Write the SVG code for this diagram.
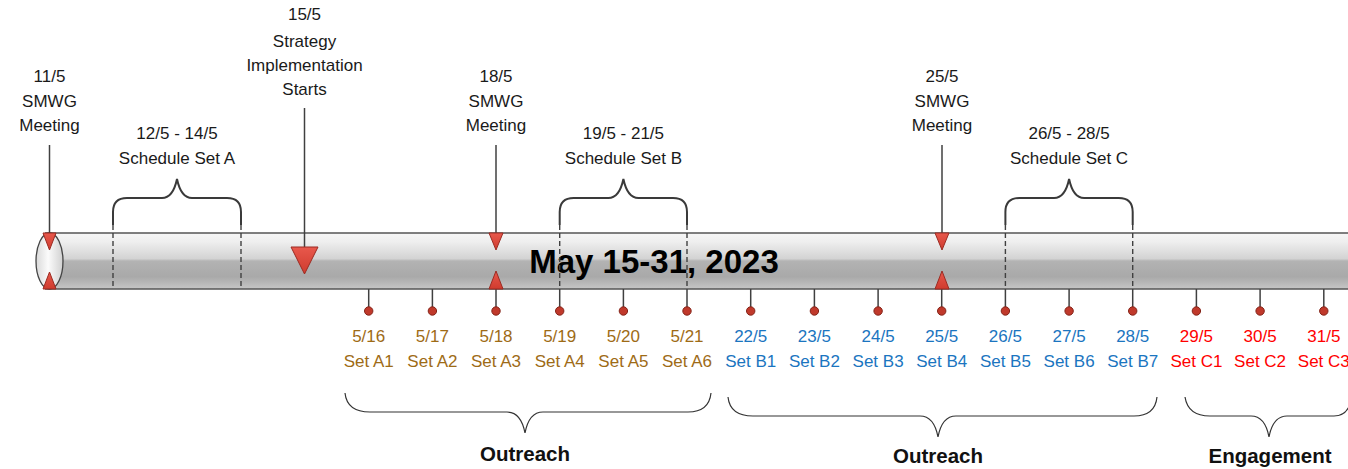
<svg xmlns="http://www.w3.org/2000/svg" width="1348" height="469" viewBox="0 0 1348 469">
<defs>
<linearGradient id="tubeG" x1="0" y1="0" x2="0" y2="1">
<stop offset="0" stop-color="#f6f6f6"/>
<stop offset="0.15" stop-color="#efefef"/>
<stop offset="0.46" stop-color="#d3d3d3"/>
<stop offset="0.5" stop-color="#b3b3b3"/>
<stop offset="0.78" stop-color="#a9a9a9"/>
<stop offset="1" stop-color="#c6c6c6"/>
</linearGradient>
<linearGradient id="capG" x1="0" y1="0" x2="1" y2="0">
<stop offset="0" stop-color="#d9d9d9"/>
<stop offset="0.45" stop-color="#fbfbfb"/>
<stop offset="1" stop-color="#d0d0d0"/>
</linearGradient>
<linearGradient id="triG" x1="0" y1="0" x2="0" y2="1">
<stop offset="0" stop-color="#e8584c"/>
<stop offset="1" stop-color="#cf3b2e"/>
</linearGradient>
<style>
.t{font-family:"Liberation Sans",Arial,sans-serif;font-size:17px;fill:#1a1a1a;text-anchor:middle}
.d{font-family:"Liberation Sans",Arial,sans-serif;font-size:17px;text-anchor:middle}
.a{fill:#9e6b16}.b{fill:#1b75c0}.c{fill:#ff0000}
.big{font-family:"Liberation Sans",Arial,sans-serif;font-size:33px;font-weight:bold;fill:#000;text-anchor:middle}
.lab{font-family:"Liberation Sans",Arial,sans-serif;font-size:20.5px;font-weight:bold;fill:#111;text-anchor:middle}
.ln{stroke:#404040;stroke-width:1.5;fill:none}
.dash{stroke:#404040;stroke-width:1.4;stroke-dasharray:5,3;fill:none}
.brace{stroke:#3a3a3a;stroke-width:2;fill:none}
.bbrace{stroke:#333;stroke-width:1.2;fill:none}
.tri{fill:url(#triG);stroke:#9b2b22;stroke-width:1}
.dot{fill:#c0392b;stroke:#842419;stroke-width:1}
</style>
</defs>

<g id="tube">
<rect x="49" y="233" width="1305" height="56" fill="url(#tubeG)"/>
<line x1="45" y1="233" x2="1348" y2="233" stroke="#555" stroke-width="1.5"/>
<line x1="45" y1="289" x2="1348" y2="289" stroke="#555" stroke-width="1.5"/>
<ellipse cx="49.5" cy="261" rx="13.5" ry="28" fill="url(#capG)" stroke="#444" stroke-width="1.3"/>
<text class="big" x="654" y="273">May 15-31, 2023</text>
</g>

<g id="connectors">
<line class="ln" x1="49.5" y1="145" x2="49.5" y2="233"/>
<line class="ln" x1="304.5" y1="108" x2="304.5" y2="247"/>
<line class="ln" x1="496" y1="145" x2="496" y2="233"/>
<line class="ln" x1="942" y1="145" x2="942" y2="233"/>
<line class="dash" x1="113" y1="225" x2="113" y2="289"/>
<line class="dash" x1="241" y1="225" x2="241" y2="289"/>
<line class="dash" x1="559.7" y1="225" x2="559.7" y2="289"/>
<line class="dash" x1="687" y1="225" x2="687" y2="289"/>
<line class="dash" x1="1005.4" y1="225" x2="1005.4" y2="289"/>
<line class="dash" x1="1132.7" y1="225" x2="1132.7" y2="289"/>
<g id="ticks">
<line class="ln" x1="368.7" y1="289" x2="368.7" y2="311"/>
<line class="ln" x1="432.4" y1="289" x2="432.4" y2="311"/>
<line class="ln" x1="496" y1="289" x2="496" y2="311"/>
<line class="ln" x1="559.7" y1="289" x2="559.7" y2="311"/>
<line class="ln" x1="623.4" y1="289" x2="623.4" y2="311"/>
<line class="ln" x1="687" y1="289" x2="687" y2="311"/>
<line class="ln" x1="750.7" y1="289" x2="750.7" y2="311"/>
<line class="ln" x1="814.4" y1="289" x2="814.4" y2="311"/>
<line class="ln" x1="878.1" y1="289" x2="878.1" y2="311"/>
<line class="ln" x1="941.7" y1="289" x2="941.7" y2="311"/>
<line class="ln" x1="1005.4" y1="289" x2="1005.4" y2="311"/>
<line class="ln" x1="1069.1" y1="289" x2="1069.1" y2="311"/>
<line class="ln" x1="1132.7" y1="289" x2="1132.7" y2="311"/>
<line class="ln" x1="1196.4" y1="289" x2="1196.4" y2="311"/>
<line class="ln" x1="1260.1" y1="289" x2="1260.1" y2="311"/>
<line class="ln" x1="1323.8" y1="289" x2="1323.8" y2="311"/>
</g>
</g>

<g id="markers">
<polygon class="tri" points="43,233 56,233 49.5,250"/>
<polygon class="tri" points="43,289 56,289 49.5,272"/>
<polygon class="tri" points="291,247 318,247 304.5,274"/>
<polygon class="tri" points="489,233 503,233 496,250"/>
<polygon class="tri" points="489,289 503,289 496,271"/>
<polygon class="tri" points="935,233 949,233 942,250"/>
<polygon class="tri" points="935,289 949,289 942,271"/>
</g>

<g id="dots">
<circle class="dot" cx="368.7" cy="311" r="4.2"/>
<circle class="dot" cx="432.4" cy="311" r="4.2"/>
<circle class="dot" cx="496" cy="311" r="4.2"/>
<circle class="dot" cx="559.7" cy="311" r="4.2"/>
<circle class="dot" cx="623.4" cy="311" r="4.2"/>
<circle class="dot" cx="687" cy="311" r="4.2"/>
<circle class="dot" cx="750.7" cy="311" r="4.2"/>
<circle class="dot" cx="814.4" cy="311" r="4.2"/>
<circle class="dot" cx="878.1" cy="311" r="4.2"/>
<circle class="dot" cx="941.7" cy="311" r="4.2"/>
<circle class="dot" cx="1005.4" cy="311" r="4.2"/>
<circle class="dot" cx="1069.1" cy="311" r="4.2"/>
<circle class="dot" cx="1132.7" cy="311" r="4.2"/>
<circle class="dot" cx="1196.4" cy="311" r="4.2"/>
<circle class="dot" cx="1260.1" cy="311" r="4.2"/>
<circle class="dot" cx="1323.8" cy="311" r="4.2"/>
</g>

<g id="n-11-5">
<text class="t" x="49.5" y="82">11/5</text>
<text class="t" x="49.5" y="107">SMWG</text>
<text class="t" x="49.5" y="131">Meeting</text>
</g>
<g id="n-15-5">
<text class="t" x="304.5" y="20">15/5</text>
<text class="t" x="304.5" y="47">Strategy</text>
<text class="t" x="304.5" y="71">Implementation</text>
<text class="t" x="304.5" y="95">Starts</text>
</g>
<g id="n-set-a">
<text class="t" x="177" y="139">12/5 - 14/5</text>
<text class="t" x="177" y="164">Schedule Set A</text>
<path class="brace" d="M113,225 L113,212 Q113,198 127,198 L162,198 Q173,198 177,179 Q181,198 192,198 L227,198 Q241,198 241,212 L241,225"/>
</g>
<g id="n-18-5">
<text class="t" x="496" y="82">18/5</text>
<text class="t" x="496" y="107">SMWG</text>
<text class="t" x="496" y="131">Meeting</text>
</g>
<g id="n-set-b">
<text class="t" x="623.4" y="139">19/5 - 21/5</text>
<text class="t" x="623.4" y="164">Schedule Set B</text>
<path class="brace" d="M559.7,225 L559.7,212 Q559.7,198 573.7,198 L608.4,198 Q619.4,198 623.4,179 Q627.4,198 638.4,198 L673,198 Q687,198 687,212 L687,225"/>
</g>
<g id="n-25-5">
<text class="t" x="942" y="82">25/5</text>
<text class="t" x="942" y="107">SMWG</text>
<text class="t" x="942" y="131">Meeting</text>
</g>
<g id="n-set-c">
<text class="t" x="1069.1" y="139">26/5 - 28/5</text>
<text class="t" x="1069.1" y="164">Schedule Set C</text>
<path class="brace" d="M1005.4,225 L1005.4,212 Q1005.4,198 1019.4,198 L1054.1,198 Q1065.1,198 1069.1,179 Q1073.1,198 1084.1,198 L1118.7,198 Q1132.7,198 1132.7,212 L1132.7,225"/>
</g>

<g id="day-labels">
<text class="d a" x="368.7" y="342">5/16</text><text class="d a" x="368.7" y="367">Set A1</text>
<text class="d a" x="432.4" y="342">5/17</text><text class="d a" x="432.4" y="367">Set A2</text>
<text class="d a" x="496" y="342">5/18</text><text class="d a" x="496" y="367">Set A3</text>
<text class="d a" x="559.7" y="342">5/19</text><text class="d a" x="559.7" y="367">Set A4</text>
<text class="d a" x="623.4" y="342">5/20</text><text class="d a" x="623.4" y="367">Set A5</text>
<text class="d a" x="687" y="342">5/21</text><text class="d a" x="687" y="367">Set A6</text>
<text class="d b" x="750.7" y="342">22/5</text><text class="d b" x="750.7" y="367">Set B1</text>
<text class="d b" x="814.4" y="342">23/5</text><text class="d b" x="814.4" y="367">Set B2</text>
<text class="d b" x="878.1" y="342">24/5</text><text class="d b" x="878.1" y="367">Set B3</text>
<text class="d b" x="941.7" y="342">25/5</text><text class="d b" x="941.7" y="367">Set B4</text>
<text class="d b" x="1005.4" y="342">26/5</text><text class="d b" x="1005.4" y="367">Set B5</text>
<text class="d b" x="1069.1" y="342">27/5</text><text class="d b" x="1069.1" y="367">Set B6</text>
<text class="d b" x="1132.7" y="342">28/5</text><text class="d b" x="1132.7" y="367">Set B7</text>
<text class="d c" x="1196.4" y="342">29/5</text><text class="d c" x="1196.4" y="367">Set C1</text>
<text class="d c" x="1260.1" y="342">30/5</text><text class="d c" x="1260.1" y="367">Set C2</text>
<text class="d c" x="1323.8" y="342">31/5</text><text class="d c" x="1323.8" y="367">Set C3</text>
</g>

<g id="outreach-1">
<path class="bbrace" d="M345,393 Q347,412 370,412 L507,412 Q521,412 525,433 Q529,412 543,412 L688,412 Q709,412 711,393"/>
<text class="lab" x="525" y="461">Outreach</text>
</g>
<g id="outreach-2">
<path class="bbrace" d="M728,397 Q730,416 753,416 L920,416 Q934,416 938,437 Q942,416 956,416 L1134,416 Q1155,416 1157,397"/>
<text class="lab" x="938" y="463">Outreach</text>
</g>
<g id="engagement">
<path class="bbrace" d="M1185,397 Q1188,416 1210,416 L1251,416 Q1265,416 1269,437 Q1273,416 1287,416 L1334,416 Q1346,416 1350,404"/>
<text class="lab" x="1270" y="463">Engagement</text>
</g>
</svg>
